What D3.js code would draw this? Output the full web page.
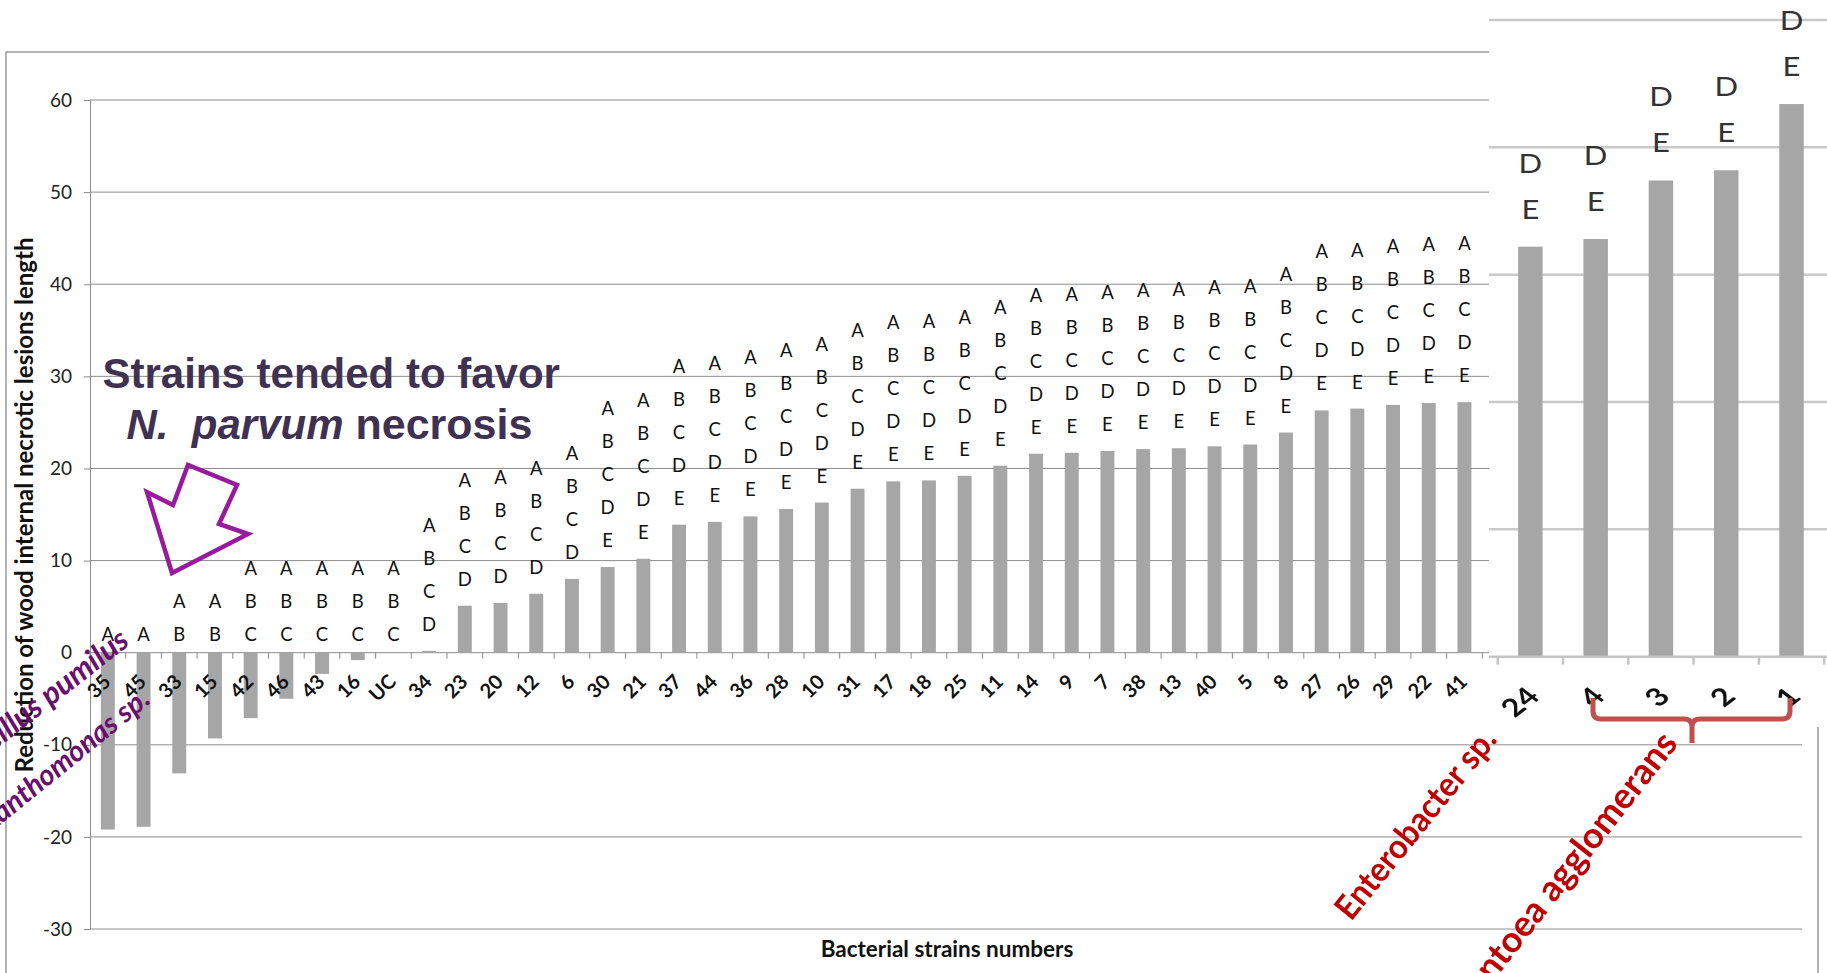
<!DOCTYPE html>
<html>
<head>
<meta charset="utf-8">
<script src="https://cdn.jsdelivr.net/npm/d3@7"></script>
<style>
  html, body { margin: 0; padding: 0; background: #fff; }
  svg { display: block; }
  .pre { white-space: pre; }
</style>
</head>
<body>
<svg id="chart" width="1827" height="973"></svg>
<script>
// Strains in ranked order (main panel)
const strains = ["35","45","33","15","42","46","43","16","UC","34","23","20","12","6","30","21",
  "37","44","36","28","10","31","17","18","25","11","14","9","7","38","13","40","5","8",
  "27","26","29","22","41"];
// Reduction of internal necrotic lesion length (%)
const reduction = [-19.2,-18.9,-13.1,-9.3,-7.1,-5.0,-2.3,-0.8,0,0.2,5.1,5.4,6.4,8.0,9.3,10.2,
  13.9,14.2,14.8,15.6,16.3,17.8,18.6,18.7,19.2,20.3,21.6,21.7,21.9,22.1,22.2,22.4,22.6,23.9,
  26.3,26.5,26.9,27.1,27.2];
// Statistical groups (letters stacked above each bar)
const groups = ["A","A","AB","AB","ABC","ABC","ABC","ABC","ABC","ABCD","ABCD","ABCD","ABCD","ABCD",
  "ABCDE","ABCDE","ABCDE","ABCDE","ABCDE","ABCDE","ABCDE","ABCDE","ABCDE","ABCDE","ABCDE","ABCDE",
  "ABCDE","ABCDE","ABCDE","ABCDE","ABCDE","ABCDE","ABCDE","ABCDE","ABCDE","ABCDE","ABCDE","ABCDE","ABCDE"];
const yTicks = [60,50,40,30,20,10,0,-10,-20,-30];

// Enlarged panel: the top-ranked strains
const insetStrains = ["24","4","3","2","1"];
const insetReduction = [32.2,32.8,37.4,38.2,43.4];
const insetGroups = ["DE","DE","DE","DE","DE"];
const insetTicks = [10,20,30,40,50];

const svg = d3.select("#chart");
const calibri = "Lato, 'Open Sans', sans-serif";

// ---------- main panel ----------
const plotL = 90, plotR = 1802;
const step = 35.7;
const x = d3.scaleBand().domain(strains).range([plotL, plotL + strains.length * step])
  .paddingInner(0.61).paddingOuter(0.305);
const y = d3.scaleLinear().domain([-30, 60]).range([929.05, 100]);

// outer frame
svg.append("rect").attr("x", 6).attr("y", 52).attr("width", 1812).attr("height", 960)
  .attr("fill", "none").attr("stroke", "#8a8a8a").attr("stroke-width", 1.3);

// gridlines
svg.append("g").selectAll("line").data(yTicks.filter(d => d !== 0)).join("line")
  .attr("x1", plotL).attr("x2", plotR)
  .attr("y1", d => y(d)).attr("y2", d => y(d))
  .attr("stroke", "#8c8c8c").attr("stroke-width", 1);

// value axis
const yAxis = d3.axisLeft(y).tickValues(yTicks).tickSize(6).tickPadding(12).tickFormat(d => String(d));
const gy = svg.append("g").attr("transform", `translate(${plotL},0)`).call(yAxis);
gy.select(".domain").attr("stroke", "#8c8c8c");
gy.selectAll(".tick line").attr("stroke", "#8c8c8c");
gy.selectAll(".tick text").attr("font-family", calibri).attr("font-size", 19).attr("fill", "#222");

// category axis line at zero with boundary ticks
svg.append("line").attr("x1", plotL).attr("x2", plotR).attr("y1", y(0)).attr("y2", y(0))
  .attr("stroke", "#8c8c8c").attr("stroke-width", 1);
svg.append("g").selectAll("line").data(d3.range(strains.length + 1)).join("line")
  .attr("x1", i => plotL + i * step).attr("x2", i => plotL + i * step)
  .attr("y1", y(0)).attr("y2", y(0) + 6)
  .attr("stroke", "#8c8c8c");

// bars
svg.append("g").selectAll("rect").data(strains).join("rect")
  .attr("x", d => x(d))
  .attr("width", x.bandwidth())
  .attr("y", (d, i) => y(Math.max(0, reduction[i])))
  .attr("height", (d, i) => Math.abs(y(reduction[i]) - y(0)))
  .attr("fill", "#a6a6a6");

// group letters
const lettersG = svg.append("g").attr("font-family", calibri).attr("font-size", 18.5)
  .attr("fill", "#111").attr("text-anchor", "middle");
strains.forEach((s, i) => {
  const v = reduction[i];
  const base = v > 0 ? y(v) - 20 : y(0) - 12;
  const letters = groups[i].split("");
  letters.forEach((L, k) => {
    lettersG.append("text")
      .attr("x", x(s) + x.bandwidth() / 2)
      .attr("y", base - (letters.length - 1 - k) * 33)
      .text(L);
  });
});

// category labels
svg.append("g").selectAll("text").data(strains).join("text")
  .attr("transform", d => `translate(${x(d) + x.bandwidth() / 2 + 4},683) rotate(-45)`)
  .attr("text-anchor", "end")
  .attr("font-family", calibri).attr("font-weight", 700).attr("font-size", 20)
  .attr("fill", "#111")
  .text(d => d);

// axis titles
svg.append("text").attr("x", 947).attr("y", 957).attr("text-anchor", "middle")
  .attr("font-family", calibri).attr("font-weight", 700).attr("font-size", 22.5).attr("fill", "#111")
  .text("Bacterial strains numbers");
svg.append("text").attr("transform", "translate(33,505) rotate(-90)").attr("text-anchor", "middle")
  .attr("font-family", calibri).attr("font-weight", 700).attr("font-size", 24).attr("fill", "#111")
  .text("Reduction of wood internal necrotic lesions length");

// annotation: strains favouring necrosis
const note = svg.append("g").attr("font-family", "'Liberation Sans', Arial, sans-serif")
  .attr("font-weight", 700).attr("font-size", 42).attr("fill", "#3f3151");
note.append("text").attr("x", 102.5).attr("y", 388).text("Strains tended to favor");
const l2 = note.append("text").attr("x", 126.5).attr("y", 439).attr("class", "pre");
l2.append("tspan").attr("font-style", "italic").text("N.  parvum");
l2.append("tspan").attr("font-size", 43).text(" necrosis");

// hollow arrow pointing at the negative bars
const arrowPts = [[172,573],[147,492],[173,505],[188,465],[237,485],[219,524],[248,534]];
svg.append("path").attr("d", d3.line()(arrowPts) + "Z")
  .attr("fill", "none").attr("stroke", "#981b9e").attr("stroke-width", 4.5)
  .attr("stroke-linejoin", "miter");

// species names for the two negative strains
const species = svg.append("g").attr("font-family", calibri).attr("font-weight", 700)
  .attr("font-style", "italic").attr("fill", "#6a0f6e").attr("text-anchor", "end");
species.append("text").attr("transform", "translate(131,644) rotate(-38)").attr("font-size", 31).text("Bacillus pumilus");
species.append("text").attr("transform", "translate(152,702) rotate(-39)").attr("font-size", 29).text("Xanthomonas sp.");

// ---------- enlarged panel ----------
const inset = svg.append("g").style("filter", "blur(0.6px)");
inset.append("rect").attr("x", 1489).attr("y", 0).attr("width", 338).attr("height", 727).attr("fill", "#fff");
const xi = d3.scaleBand().domain(insetStrains).range([1497.7, 1497.7 + 5 * 65.3])
  .paddingInner(0.625).paddingOuter(0.3125);
const yi = d3.scaleLinear().domain([0, 50]).range([656.7, 20]);

inset.append("g").selectAll("line").data(insetTicks).join("line")
  .attr("x1", 1489).attr("x2", 1827).attr("y1", d => yi(d)).attr("y2", d => yi(d))
  .attr("stroke", "#c9c9c9").attr("stroke-width", 2.5);

inset.append("g").selectAll("rect").data(insetStrains).join("rect")
  .attr("x", d => xi(d)).attr("width", xi.bandwidth())
  .attr("y", (d, i) => yi(insetReduction[i]))
  .attr("height", (d, i) => yi(0) - yi(insetReduction[i]))
  .attr("fill", "#a6a6a6");

inset.append("line").attr("x1", 1489).attr("x2", 1827).attr("y1", yi(0)).attr("y2", yi(0))
  .attr("stroke", "#c4c4c4").attr("stroke-width", 2.5);
inset.append("g").selectAll("line").data(d3.range(insetStrains.length + 1)).join("line")
  .attr("x1", i => 1497.7 + i * 65.3).attr("x2", i => 1497.7 + i * 65.3)
  .attr("y1", yi(0)).attr("y2", yi(0) + 8)
  .attr("stroke", "#c4c4c4").attr("stroke-width", 2.5);

const insetLetters = inset.append("g").attr("font-family", calibri).attr("font-size", 27)
  .attr("fill", "#333").attr("text-anchor", "middle");
insetStrains.forEach((s, i) => {
  const base = yi(insetReduction[i]) - 28;
  const letters = insetGroups[i].split("");
  letters.forEach((L, k) => {
    insetLetters.append("text")
      .attr("transform", `translate(${xi(s) + xi.bandwidth() / 2},${base - (letters.length - 1 - k) * 46}) scale(1.15,1)`)
      .text(L);
  });
});

inset.append("g").selectAll("text").data(insetStrains).join("text")
  .attr("transform", d => `translate(${xi(d) + xi.bandwidth() / 2 + 11},698) scale(1.3,1) rotate(-45)`)
  .attr("text-anchor", "end")
  .attr("font-family", calibri).attr("font-weight", 700).attr("font-size", 25)
  .attr("fill", "#111")
  .text(d => d);

// ---------- red annotations ----------
const red = svg.append("g").attr("font-family", calibri).attr("font-weight", 700)
  .attr("font-size", 34).attr("fill", "#c00000");
red.append("text").attr("transform", "translate(1351,922) rotate(-51)")
  .attr("textLength", 234).attr("lengthAdjust", "spacingAndGlyphs").text("Enterobacter sp.");
red.append("text").attr("transform", "translate(1679,744) rotate(-52)").attr("text-anchor", "end")
  .attr("font-size", 36).text("Pantoea agglomerans");

svg.append("path")
  .attr("d", "M1593,698 L1593,711 Q1593,719 1601,719 L1684,719 Q1692,719 1692,727 L1692,743 M1692,727 Q1692,719 1700,719 L1782,719 Q1790,719 1790,711 L1790,698")
  .attr("fill", "none").attr("stroke", "#c0504d").attr("stroke-width", 5);
</script>
</body>
</html>
